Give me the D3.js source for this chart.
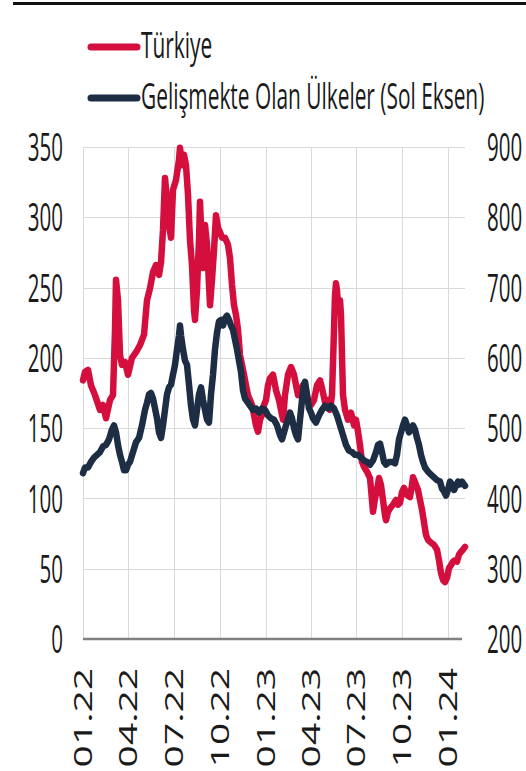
<!DOCTYPE html>
<html>
<head>
<meta charset="utf-8">
<script src="https://cdn.jsdelivr.net/npm/d3@7"></script>
<style>
  html, body { margin: 0; padding: 0; background: #fff; }
  svg { display: block; font-family: "Open Sans", "Noto Sans", sans-serif; }
</style>
</head>
<body>
<svg id="chart" width="526" height="771"></svg>
<script>
// Türkiye 5Y CDS (right axis, bps)
const turkiyeDates = ["2022-01-01","2022-01-05","2022-01-11","2022-01-17","2022-01-25","2022-02-04","2022-02-10","2022-02-16","2022-02-24","2022-03-02","2022-03-06","2022-03-08","2022-03-12","2022-03-16","2022-03-20","2022-03-26","2022-04-01","2022-04-09","2022-04-17","2022-04-25","2022-05-03","2022-05-09","2022-05-15","2022-05-21","2022-05-27","2022-06-02","2022-06-06","2022-06-10","2022-06-14","2022-06-18","2022-06-22","2022-06-26","2022-06-30","2022-07-06","2022-07-12","2022-07-14","2022-07-18","2022-07-22","2022-07-26","2022-07-30","2022-08-03","2022-08-07","2022-08-11","2022-08-13","2022-08-17","2022-08-21","2022-08-23","2022-08-27","2022-08-29","2022-09-02","2022-09-06","2022-09-10","2022-09-12","2022-09-16","2022-09-20","2022-09-24","2022-09-28","2022-10-02","2022-10-06","2022-10-12","2022-10-18","2022-10-22","2022-10-26","2022-10-30","2022-11-03","2022-11-07","2022-11-11","2022-11-15","2022-11-19","2022-11-23","2022-11-27","2022-12-01","2022-12-05","2022-12-09","2022-12-13","2022-12-17","2022-12-21","2022-12-25","2022-12-29","2023-01-02","2023-01-06","2023-01-10","2023-01-16","2023-01-22","2023-01-28","2023-02-01","2023-02-05","2023-02-09","2023-02-15","2023-02-21","2023-02-27","2023-03-03","2023-03-07","2023-03-11","2023-03-17","2023-03-21","2023-03-27","2023-04-02","2023-04-08","2023-04-14","2023-04-20","2023-04-24","2023-04-30","2023-05-06","2023-05-10","2023-05-14","2023-05-18","2023-05-20","2023-05-22","2023-05-24","2023-05-26","2023-05-30","2023-06-01","2023-06-03","2023-06-05","2023-06-09","2023-06-15","2023-06-21","2023-06-27","2023-07-01","2023-07-05","2023-07-09","2023-07-13","2023-07-17","2023-07-23","2023-07-29","2023-08-02","2023-08-04","2023-08-08","2023-08-12","2023-08-16","2023-08-20","2023-08-24","2023-08-28","2023-08-30","2023-09-03","2023-09-07","2023-09-13","2023-09-19","2023-09-23","2023-09-27","2023-10-01","2023-10-05","2023-10-11","2023-10-17","2023-10-21","2023-10-23","2023-10-27","2023-11-02","2023-11-06","2023-11-10","2023-11-14","2023-11-18","2023-11-22","2023-11-28","2023-12-04","2023-12-10","2023-12-14","2023-12-18","2023-12-22","2023-12-26","2023-12-30","2024-01-03","2024-01-07","2024-01-11","2024-01-15","2024-01-19","2024-01-23","2024-01-27","2024-01-31","2024-02-04"];
const turkiyeValues = [568,580,583,561,547,526,533,514,540,547,640,711,682,604,590,594,576,600,608,618,633,682,699,722,732,718,736,782,856,825,789,771,839,853,882,899,874,889,874,832,768,732,668,654,697,768,822,753,728,789,761,704,675,711,753,803,785,779,771,771,761,742,704,675,661,640,604,590,576,561,547,540,533,519,504,495,512,519,533,540,561,571,576,554,540,526,512,547,576,587,576,561,547,554,561,557,540,533,540,561,568,557,537,540,526,547,640,689,706,696,675,682,661,604,547,526,512,522,504,512,495,476,452,445,438,429,398,381,400,412,429,419,398,376,369,381,386,391,398,391,394,409,415,405,402,419,430,423,412,398,384,366,348,341,337,334,327,312,294,284,281,287,301,305,310,312,310,320,324,327,331];

// Emerging markets CDS (left axis, bps)
const emDates = ["2022-01-01","2022-01-05","2022-01-11","2022-01-17","2022-01-23","2022-01-29","2022-02-04","2022-02-10","2022-02-16","2022-02-22","2022-02-28","2022-03-04","2022-03-08","2022-03-12","2022-03-16","2022-03-20","2022-03-24","2022-03-28","2022-04-01","2022-04-05","2022-04-11","2022-04-17","2022-04-23","2022-04-29","2022-05-05","2022-05-09","2022-05-13","2022-05-17","2022-05-21","2022-05-25","2022-05-29","2022-06-02","2022-06-06","2022-06-10","2022-06-14","2022-06-18","2022-06-22","2022-06-26","2022-06-30","2022-07-04","2022-07-08","2022-07-12","2022-07-14","2022-07-16","2022-07-20","2022-07-24","2022-07-28","2022-08-01","2022-08-05","2022-08-09","2022-08-13","2022-08-17","2022-08-21","2022-08-25","2022-08-29","2022-09-02","2022-09-06","2022-09-10","2022-09-14","2022-09-18","2022-09-22","2022-09-26","2022-09-30","2022-10-04","2022-10-08","2022-10-12","2022-10-16","2022-10-20","2022-10-24","2022-10-28","2022-11-01","2022-11-05","2022-11-09","2022-11-13","2022-11-17","2022-11-21","2022-11-25","2022-12-01","2022-12-07","2022-12-13","2022-12-19","2022-12-25","2022-12-31","2023-01-06","2023-01-12","2023-01-18","2023-01-24","2023-01-30","2023-02-03","2023-02-07","2023-02-11","2023-02-15","2023-02-19","2023-02-23","2023-02-27","2023-03-03","2023-03-07","2023-03-11","2023-03-15","2023-03-19","2023-03-21","2023-03-25","2023-03-29","2023-04-02","2023-04-06","2023-04-12","2023-04-18","2023-04-24","2023-04-30","2023-05-06","2023-05-12","2023-05-18","2023-05-24","2023-05-30","2023-06-05","2023-06-11","2023-06-17","2023-06-23","2023-06-29","2023-07-05","2023-07-11","2023-07-17","2023-07-23","2023-07-29","2023-08-04","2023-08-10","2023-08-14","2023-08-18","2023-08-22","2023-08-26","2023-08-30","2023-09-05","2023-09-11","2023-09-17","2023-09-21","2023-09-25","2023-09-29","2023-10-03","2023-10-07","2023-10-11","2023-10-15","2023-10-19","2023-10-23","2023-10-27","2023-10-31","2023-11-04","2023-11-08","2023-11-12","2023-11-16","2023-11-22","2023-11-28","2023-12-04","2023-12-10","2023-12-16","2023-12-20","2023-12-24","2023-12-28","2024-01-01","2024-01-05","2024-01-09","2024-01-13","2024-01-17","2024-01-21","2024-01-25","2024-01-29","2024-02-04"];
const emValues = [118,122,122,126,129,131,133,137,138,142,149,152,147,138,131,126,120,120,124,126,133,140,143,152,163,168,174,175,171,164,157,147,143,152,163,174,179,181,188,195,206,216,223,216,206,198,195,181,166,156,152,163,174,179,170,163,156,154,174,188,206,218,226,227,223,228,230,227,223,220,213,206,198,190,177,171,169,166,163,164,161,164,163,159,157,156,152,145,142,147,152,156,161,157,150,145,142,156,170,181,183,174,164,161,157,154,159,163,166,164,166,164,159,152,145,138,134,133,131,131,129,127,126,124,127,133,138,139,133,126,124,126,126,125,131,142,147,152,156,152,147,149,152,149,143,138,131,126,122,119,117,115,113,112,107,105,102,106,112,110,106,109,112,110,112,109];

// Axis ticks
const leftTicks = [0, 50, 100, 150, 200, 250, 300, 350];
const rightTicks = [200, 300, 400, 500, 600, 700, 800, 900];
const xTickDates = ["2022-01-01","2022-04-01","2022-07-01","2022-10-01","2023-01-01","2023-04-01","2023-07-01","2023-10-01","2024-01-01"];
const xDomain = ["2022-01-01", "2024-02-04"];

const legendItems = [
  { label: "Türkiye", color: "#d40f3d" },
  { label: "Gelişmekte Olan Ülkeler (Sol Eksen)", color: "#1c2d44" }
];

const parse = d3.utcParse("%Y-%m-%d");
const fmt = d3.utcFormat("%m.%y");

const svg = d3.select("#chart");
const plot = { left: 83, right: 465, top: 147, bottom: 639 };

const x = d3.scaleUtc().domain(xDomain.map(parse)).range([plot.left, plot.right]);
const yL = d3.scaleLinear().domain([0, 350]).range([plot.bottom, plot.top]);
const yR = d3.scaleLinear().domain([200, 900]).range([plot.bottom, plot.top]);

// header rule
svg.append("rect").attr("x", 13).attr("y", 2).attr("width", 513).attr("height", 3).attr("fill", "#111");

// grid
const grid = svg.append("g").attr("stroke", "#d9d9d9").attr("stroke-width", 1);
grid.selectAll("line.h").data(leftTicks.filter(d => d > 0)).join("line")
  .attr("x1", plot.left).attr("x2", plot.right)
  .attr("y1", d => Math.round(yL(d)) + 0.5).attr("y2", d => Math.round(yL(d)) + 0.5);
grid.selectAll("line.v").data(xTickDates.map(parse)).join("line")
  .attr("x1", d => Math.round(x(d)) + 0.5).attr("x2", d => Math.round(x(d)) + 0.5)
  .attr("y1", plot.top).attr("y2", plot.bottom);

// tick label text is narrow and tall
const SX = 0.54;

const leftAxis = svg.append("g").attr("transform", `translate(${plot.left},0)`)
  .call(d3.axisLeft(yL).tickValues(leftTicks).tickSize(0).tickPadding(0));
leftAxis.select(".domain").remove();
leftAxis.selectAll("text")
  .attr("font-family", "Open Sans").attr("font-size", 38).attr("fill", "#1a1a1a")
  .attr("x", -20 / SX).attr("dy", "0.36em").attr("text-anchor", "end")
  .attr("transform", `scale(${SX},1)`);

const rightAxis = svg.append("g").attr("transform", `translate(${plot.right},0)`)
  .call(d3.axisRight(yR).tickValues(rightTicks).tickSize(0).tickPadding(0));
rightAxis.select(".domain").remove();
rightAxis.selectAll("text")
  .attr("font-family", "Open Sans").attr("font-size", 38).attr("fill", "#1a1a1a")
  .attr("x", 22 / SX).attr("dy", "0.36em").attr("text-anchor", "start")
  .attr("transform", `scale(${SX},1)`);

const bottomAxis = svg.append("g").attr("transform", `translate(0,${plot.bottom})`)
  .call(d3.axisBottom(x).tickValues(xTickDates.map(parse)).tickFormat(fmt).tickSize(0).tickPadding(0));
bottomAxis.select(".domain").remove();
bottomAxis.selectAll("text")
  .attr("font-family", "Open Sans").attr("font-size", 39).attr("fill", "#1a1a1a")
  .attr("x", 0).attr("y", 0).attr("dy", "0.35em").attr("text-anchor", "end")
  .attr("transform", "translate(0,29) scale(0.63,1) rotate(-90)");

// baseline
svg.append("line").attr("x1", plot.left).attr("x2", 462)
  .attr("y1", plot.bottom).attr("y2", plot.bottom)
  .attr("stroke", "#808080").attr("stroke-width", 2.5);

// series
const turkiye = turkiyeDates.map((d, i) => ({ date: parse(d), value: turkiyeValues[i] }));
const em = emDates.map((d, i) => ({ date: parse(d), value: emValues[i] }));

svg.append("path").datum(turkiye)
  .attr("fill", "none").attr("stroke", legendItems[0].color).attr("stroke-width", 6.5)
  .attr("stroke-linejoin", "round").attr("stroke-linecap", "round")
  .attr("d", d3.line().x(d => x(d.date)).y(d => yR(d.value)));

svg.append("path").datum(em)
  .attr("fill", "none").attr("stroke", legendItems[1].color).attr("stroke-width", 6.5)
  .attr("stroke-linejoin", "round").attr("stroke-linecap", "round")
  .attr("d", d3.line().x(d => x(d.date)).y(d => yL(d.value)));

// legend
const legend = svg.append("g");
const rowY = [47, 98];
const LSX = 0.58;
legendItems.forEach((item, i) => {
  legend.append("line").attr("x1", 91).attr("x2", 137).attr("y1", rowY[i]).attr("y2", rowY[i])
    .attr("stroke", item.color).attr("stroke-width", 7).attr("stroke-linecap", "round");
  legend.append("text").text(item.label)
    .attr("font-family", "Open Sans").attr("font-size", 36).attr("fill", "#1a1a1a")
    .attr("x", 141 / LSX).attr("y", rowY[i] + 11)
    .attr("transform", `scale(${LSX},1)`);
});
</script>
</body>
</html>
